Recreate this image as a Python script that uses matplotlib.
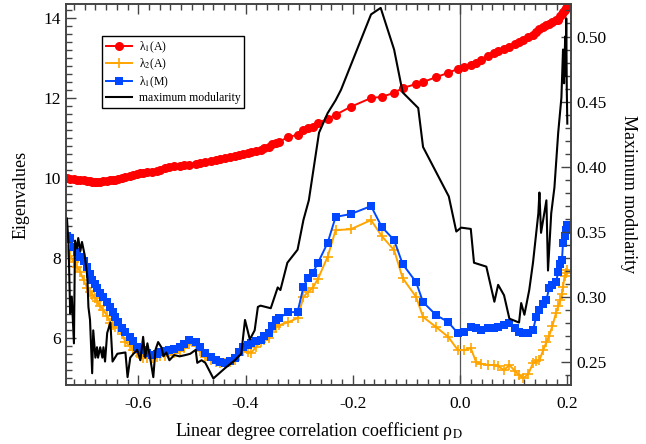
import matplotlib
matplotlib.use("Agg")
import matplotlib.pyplot as plt
from matplotlib.ticker import MultipleLocator

plt.rcParams['font.family'] = 'serif'
plt.rcParams['font.serif'] = ['Liberation Serif', 'DejaVu Serif']
plt.rcParams['mathtext.fontset'] = 'stix'

# eigenvalue series (shared rho values)
rho = [-0.733, -0.727, -0.720, -0.714, -0.708, -0.702, -0.695, -0.690, -0.686, -0.680,
       -0.677, -0.671, -0.665, -0.658, -0.652, -0.647, -0.643, -0.637, -0.630, -0.624,
       -0.615, -0.609, -0.602, -0.596, -0.591, -0.583, -0.574, -0.566, -0.559, -0.550,
       -0.542, -0.533, -0.523, -0.514, -0.505, -0.493, -0.484, -0.475, -0.465, -0.456,
       -0.447, -0.438, -0.429, -0.420, -0.412, -0.404, -0.396, -0.389, -0.381, -0.372,
       -0.365, -0.357, -0.350, -0.344, -0.338, -0.320, -0.303, -0.292, -0.284, -0.275,
       -0.265, -0.247, -0.232, -0.204, -0.166, -0.146, -0.123, -0.107, -0.082, -0.069,
       -0.045, -0.022, -0.004, 0.008, 0.020, 0.030, 0.039, 0.052, 0.064, 0.071,
       0.082, 0.092, 0.102, 0.110, 0.118, 0.127, 0.136, 0.142, 0.148, 0.155,
       0.161, 0.166, 0.172, 0.179, 0.183, 0.187, 0.190, 0.192, 0.195, 0.198, 0.200]

lam1_A = [10.00, 9.98, 9.97, 9.96, 9.95, 9.94, 9.93, 9.92, 9.91, 9.91,
          9.91, 9.91, 9.92, 9.93, 9.94, 9.95, 9.96, 9.98, 10.00, 10.02,
          10.05, 10.08, 10.10, 10.12, 10.13, 10.14, 10.16, 10.18, 10.20, 10.24,
          10.27, 10.29, 10.31, 10.32, 10.33, 10.35, 10.37, 10.40, 10.42, 10.45,
          10.47, 10.50, 10.52, 10.55, 10.58, 10.60, 10.62, 10.65, 10.68, 10.70,
          10.74, 10.78, 10.84, 10.88, 10.90, 11.03, 11.08, 11.20, 11.24, 11.28,
          11.38, 11.48, 11.58, 11.78, 12.00, 12.03, 12.13, 12.25, 12.35, 12.40,
          12.52, 12.63, 12.73, 12.77, 12.83, 12.88, 12.95, 13.05, 13.13, 13.17,
          13.23, 13.28, 13.35, 13.40, 13.45, 13.52, 13.58, 13.65, 13.72, 13.78,
          13.83, 13.86, 13.90, 13.94, 13.96, 14.05, 14.10, 14.15, 14.20, 14.25, 14.28]

lam2_A = [8.20, 8.05, 7.90, 7.78, 7.65, 7.45, 7.25, 7.15, 7.08, 7.00,
          6.92, 6.80, 6.70, 6.55, 6.38, 6.32, 6.28, 6.25, 6.10, 5.90,
          5.80, 5.70, 5.62, 5.55, 5.50, 5.50, 5.50, 5.52, 5.55, 5.56,
          5.58, 5.62, 5.68, 5.75, 5.85, 5.80, 5.68, 5.53, 5.45, 5.40,
          5.38, 5.38, 5.40, 5.45, 5.58, 5.68, 5.66, 5.63, 5.78, 5.90,
          5.95, 6.00, 6.15, 6.28, 6.32, 6.40, 6.50, 7.03, 7.15, 7.25,
          7.48, 8.03, 8.70, 8.72, 8.95, 8.55, 8.20, 7.50, 7.03, 6.53,
          6.28, 6.03, 5.70, 5.70, 5.75, 5.40, 5.36, 5.33, 5.33, 5.30,
          5.20, 5.33, 5.18, 5.08, 5.00, 5.10, 5.37, 5.42, 5.45, 5.70,
          5.90, 6.05, 6.30, 6.63, 6.80, 6.95, 7.10, 7.28, 7.55, 7.62, 7.70]

lam1_M = [8.55, 8.50, 8.28, 8.15, 8.03, 7.92, 7.78, 7.60, 7.45, 7.35,
          7.25, 7.12, 7.03, 6.90, 6.78, 6.65, 6.53, 6.40, 6.25, 6.15,
          6.03, 5.92, 5.78, 5.74, 5.70, 5.64, 5.58, 5.60, 5.65, 5.68,
          5.70, 5.74, 5.78, 5.86, 5.95, 5.90, 5.78, 5.63, 5.52, 5.45,
          5.40, 5.37, 5.42, 5.50, 5.65, 5.78, 5.84, 5.88, 5.92, 5.95,
          6.05, 6.12, 6.30, 6.45, 6.50, 6.65, 6.65, 7.28, 7.50, 7.62,
          7.88, 8.38, 9.03, 9.10, 9.30, 8.78, 8.45, 7.85, 7.40, 6.90,
          6.58, 6.40, 6.12, 6.15, 6.28, 6.25, 6.20, 6.25, 6.26, 6.28,
          6.32, 6.37, 6.25, 6.15, 6.12, 6.12, 6.20, 6.53, 6.70, 6.85,
          6.95, 7.25, 7.32, 7.40, 7.65, 7.85, 7.95, 8.38, 8.55, 8.70, 8.82]

# maximum modularity (right axis)
rho_mod = [-0.733, -0.730, -0.727, -0.724, -0.720, -0.718, -0.714, -0.712, -0.708, -0.705,
           -0.700, -0.695, -0.693, -0.690, -0.686, -0.684, -0.680, -0.677, -0.675, -0.671,
           -0.667, -0.665, -0.662, -0.658, -0.652, -0.648, -0.639, -0.624, -0.620, -0.615,
           -0.609, -0.602, -0.596, -0.591, -0.587, -0.583, -0.578, -0.572, -0.568, -0.563,
           -0.557, -0.553, -0.548, -0.542, -0.533, -0.523, -0.512, -0.503, -0.493, -0.490,
           -0.482, -0.475, -0.460, -0.438, -0.420, -0.408, -0.401, -0.392, -0.383, -0.377,
           -0.372, -0.353, -0.340, -0.335, -0.322, -0.303, -0.292, -0.282, -0.263, -0.247,
           -0.232, -0.222, -0.166, -0.148, -0.123, -0.107, -0.078, -0.069, -0.045, -0.021,
           -0.007, 0.002, 0.020, 0.026, 0.049, 0.064, 0.071, 0.082, 0.092, 0.110,
           0.114, 0.120, 0.129, 0.136, 0.146, 0.148, 0.151, 0.161, 0.164, 0.170,
           0.176, 0.183, 0.189, 0.192, 0.194, 0.196, 0.197, 0.198, 0.199, 0.200]
max_mod = [0.360, 0.340, 0.287, 0.300, 0.264, 0.343, 0.337, 0.345, 0.335, 0.342,
           0.332, 0.315, 0.292, 0.282, 0.241, 0.274, 0.253, 0.261, 0.253, 0.261,
           0.253, 0.261, 0.250, 0.272, 0.280, 0.250, 0.256, 0.257, 0.238, 0.253,
           0.256, 0.259, 0.251, 0.269, 0.253, 0.264, 0.253, 0.238, 0.259, 0.265,
           0.261, 0.254, 0.257, 0.251, 0.255, 0.254, 0.255, 0.256, 0.259, 0.249,
           0.251, 0.249, 0.237, 0.245, 0.251, 0.256, 0.282, 0.267, 0.274, 0.292,
           0.293, 0.291, 0.307, 0.305, 0.326, 0.336, 0.359, 0.374, 0.426, 0.441,
           0.451, 0.459, 0.517, 0.522, 0.490, 0.457, 0.445, 0.415, 0.396, 0.377,
           0.350, 0.353, 0.352, 0.326, 0.323, 0.296, 0.309, 0.301, 0.283, 0.280,
           0.295, 0.286, 0.305, 0.326, 0.364, 0.380, 0.349, 0.374, 0.320, 0.364,
           0.384, 0.426, 0.453, 0.490, 0.464, 0.500, 0.470, 0.514, 0.460, 0.433]

fs = 12.5
spine_col = '#444444'

fig = plt.figure(figsize=(6.46, 4.44), dpi=100)
ax = fig.add_axes([0.102, 0.133, 0.782, 0.858])
ax2 = ax.twinx()

ax.axvline(0, color='#555555', lw=0.9, zorder=1)

l1, = ax.plot(rho, lam1_A, color='#ff0000', lw=1.4, marker='o', markersize=6.5,
              markeredgewidth=0, label='λ$_1$(A)')
l2, = ax.plot(rho, lam2_A, color='#ffa500', lw=1.4, marker='+', markersize=7,
              markeredgewidth=1.2, label='λ$_2$(A)')
l3, = ax.plot(rho, lam1_M, color='#0047ff', lw=1.4, marker='s', markersize=5.5,
              markeredgewidth=0, label='λ$_1$(M)')
l4, = ax2.plot(rho_mod, max_mod, color='black', lw=1.5, label='maximum modularity')

ax.set_xlim(-0.735, 0.207)
ax.set_ylim(4.83, 14.35)
ax2.set_ylim(0.232, 0.525)

ax.xaxis.set_minor_locator(MultipleLocator(0.02))
ax.yaxis.set_major_locator(MultipleLocator(2))
ax.yaxis.set_minor_locator(MultipleLocator(0.2))
ax2.yaxis.set_major_locator(MultipleLocator(0.05))
ax2.yaxis.set_minor_locator(MultipleLocator(0.01))

ax.set_xticks([-0.6, -0.4, -0.2, 0.0, 0.2])
ax.set_xticklabels(['-0.6', '-0.4', '-0.2', '0.0', '0.2'])

ax.tick_params(axis='x', which='both', direction='in', top=True, labelsize=fs,
               color=spine_col, pad=8)
ax.tick_params(axis='y', which='both', direction='in', right=False, labelsize=fs,
               color=spine_col)
ax2.tick_params(axis='y', which='both', direction='in', labelsize=fs, color=spine_col)
for a in (ax, ax2):
    a.tick_params(which='major', length=7, width=1)
    a.tick_params(which='minor', length=4, width=1)
    for s in a.spines.values():
        s.set_color(spine_col)
        s.set_linewidth(1.2)

ax.set_xlabel('Linear degree correlation coefficient ρ$_{\\mathrm{D}}$', fontsize=13,
              labelpad=6)
ax.set_ylabel('Eigenvalues', fontsize=13, labelpad=10)
ax2.set_ylabel('Maximum modularity', fontsize=13, rotation=270, labelpad=22)

leg = ax2.legend(handles=[l1, l2, l3, l4], loc='upper left',
                 bbox_to_anchor=(0.072, 0.917), fontsize=8.5, frameon=True,
                 fancybox=False, edgecolor='black', framealpha=1,
                 handlelength=2.2, borderpad=0.3, labelspacing=0.2,
                 handletextpad=0.6, borderaxespad=0)
leg.get_frame().set_linewidth(1.0)

fig.savefig('out.png', dpi=100)
